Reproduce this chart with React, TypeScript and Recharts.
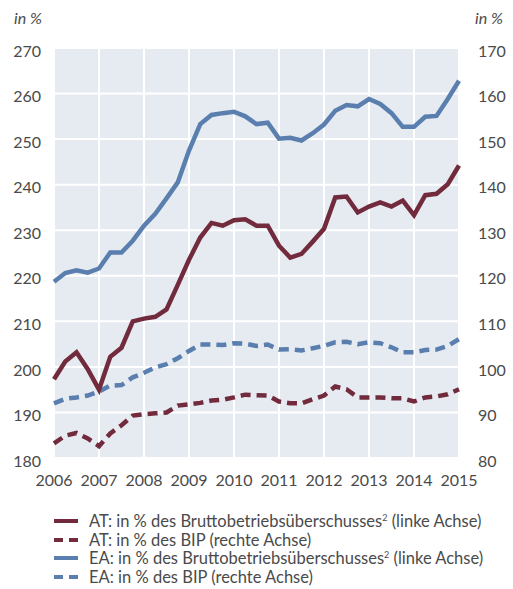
import React from "react";
import { CartesianGrid, Line, LineChart, XAxis, YAxis } from "recharts";

// quarters 2006 Q1 .. 2015 Q1
const quarters = [
  "2006-Q1", "2006-Q2", "2006-Q3", "2006-Q4",
  "2007-Q1", "2007-Q2", "2007-Q3", "2007-Q4",
  "2008-Q1", "2008-Q2", "2008-Q3", "2008-Q4",
  "2009-Q1", "2009-Q2", "2009-Q3", "2009-Q4",
  "2010-Q1", "2010-Q2", "2010-Q3", "2010-Q4",
  "2011-Q1", "2011-Q2", "2011-Q3", "2011-Q4",
  "2012-Q1", "2012-Q2", "2012-Q3", "2012-Q4",
  "2013-Q1", "2013-Q2", "2013-Q3", "2013-Q4",
  "2014-Q1", "2014-Q2", "2014-Q3", "2014-Q4",
  "2015-Q1",
];

// left axis: in % des Bruttobetriebsüberschusses
const atBue = [
  197.3, 201.2, 203.2, 199.5, 195, 202.2, 204.2, 210, 210.6, 211, 212.6, 218,
  223.5, 228.4, 231.6, 231, 232.2, 232.4, 231, 231, 226.6, 224, 224.8, 227.5,
  230.3, 237.2, 237.4, 233.9, 235.2, 236.1, 235.2, 236.5, 233.3, 237.7, 238,
  240.1, 244.2,
];
const eaBue = [
  218.7, 220.6, 221.2, 220.7, 221.6, 225.1, 225.1, 227.7, 231, 233.6, 237,
  240.5, 247.5, 253.3, 255.3, 255.7, 256, 255, 253.3, 253.6, 250.1, 250.3,
  249.7, 251.3, 253.2, 256.2, 257.5, 257.2, 258.8, 257.7, 255.7, 252.7, 252.7,
  254.9, 255.1, 258.8, 262.8,
];

// right axis: in % des BIP
const atBip = [
  83.2, 84.9, 85.5, 84.3, 82.6, 85.4, 87.2, 89.3, 89.6, 89.8, 90, 91.5, 91.8,
  92.1, 92.6, 92.8, 93.3, 93.9, 93.8, 93.7, 92.4, 92, 92, 92.9, 93.7, 95.7,
  95.1, 93.3, 93.3, 93.3, 93.1, 93.1, 92.4, 93.3, 93.5, 94, 95.1,
];
const eaBip = [
  92, 93, 93.3, 93.7, 94.6, 95.9, 96, 97.7, 98.7, 99.9, 100.6, 101.9, 103.5,
  104.9, 104.9, 104.8, 105.2, 105.1, 104.6, 104.9, 103.8, 103.9, 103.6, 104.1,
  104.6, 105.4, 105.5, 105, 105.4, 105.2, 104.3, 103.2, 103.2, 103.7, 103.8,
  104.6, 106.1,
];

const leftTicks = [180, 190, 200, 210, 220, 230, 240, 250, 260, 270];
const rightTicks = [80, 90, 100, 110, 120, 130, 140, 150, 160, 170];
const yearTicks = quarters.filter((q) => q.endsWith("Q1"));

const MAROON = "#722b3d";
const BLUE = "#5a7fae";
const TEXT = "#4a4a4a";
const FONT = "Lato, 'Open Sans', sans-serif";

const legendItems = [
  { label: "AT: in % des Bruttobetriebsüberschusses", sup: true, axis: "(linke Achse)", color: MAROON, dashed: false },
  { label: "AT: in % des BIP", sup: false, axis: "(rechte Achse)", color: MAROON, dashed: true },
  { label: "EA: in % des Bruttobetriebsüberschusses", sup: true, axis: "(linke Achse)", color: BLUE, dashed: false },
  { label: "EA: in % des BIP", sup: false, axis: "(rechte Achse)", color: BLUE, dashed: true },
];

const data = quarters.map((q, i) => ({
  q,
  atBue: atBue[i],
  eaBue: eaBue[i],
  atBip: atBip[i],
  eaBip: eaBip[i],
}));

const tickStyle = { fill: TEXT, fontSize: 16, fontFamily: FONT };

export default function App() {
  return (
    <div
      style={{
        position: "absolute",
        left: 0,
        top: 0,
        width: 513,
        height: 589,
        background: "#fff",
        fontFamily: FONT,
        color: TEXT,
      }}
    >
      <div style={{ position: "absolute", left: 14, top: 8, fontSize: 16, fontStyle: "italic" }}>
        in %
      </div>
      <div style={{ position: "absolute", left: 475, top: 8, fontSize: 16, fontStyle: "italic" }}>
        in %
      </div>
      <LineChart
        width={513}
        height={490}
        data={data}
        margin={{ top: 48, right: 0, bottom: 0, left: 0 }}
      >
        <CartesianGrid stroke="#ffffff" strokeWidth={2} fill="#e6ebf2" fillOpacity={1} />
        <XAxis
          dataKey="q"
          ticks={yearTicks}
          tickFormatter={(v: string) => v.slice(0, 4)}
          axisLine={false}
          tickLine={false}
          tickSize={0}
          tickMargin={17}
          height={32}
          tick={tickStyle}
          interval={0}
        />
        <YAxis
          domain={[180, 270]}
          ticks={leftTicks}
          axisLine={false}
          tickLine={false}
          tickSize={0}
          tickMargin={13}
          width={54}
          tick={{ ...tickStyle, dy: 3 }}
        />
        <YAxis
          yAxisId="r"
          orientation="right"
          domain={[80, 170]}
          ticks={rightTicks}
          axisLine={false}
          tickLine={false}
          tickSize={0}
          tickMargin={19}
          width={54}
          tick={{ ...tickStyle, dy: 3, textAnchor: "start" }}
        />
        <Line dataKey="atBip" yAxisId="r" stroke={MAROON} strokeWidth={4.5} strokeDasharray="10 6" dot={false} isAnimationActive={false} />
        <Line dataKey="eaBip" yAxisId="r" stroke={BLUE} strokeWidth={4.5} strokeDasharray="10 6" dot={false} isAnimationActive={false} />
        <Line dataKey="eaBue" stroke={BLUE} strokeWidth={4.5} dot={false} isAnimationActive={false} />
        <Line dataKey="atBue" stroke={MAROON} strokeWidth={4.5} dot={false} isAnimationActive={false} />
      </LineChart>
      <div style={{ position: "absolute", left: 54, top: 512, fontSize: 16.5 }}>
        {legendItems.map((it) => (
          <div key={it.label + it.axis} style={{ display: "flex", alignItems: "center", height: 18.6 }}>
            <svg width={24} height={6} style={{ marginRight: 11 }}>
              {it.dashed ? (
                <>
                  <rect x={0} y={1} width={9} height={4} fill={it.color} />
                  <rect x={15} y={1} width={9} height={4} fill={it.color} />
                </>
              ) : (
                <rect x={0} y={1} width={24} height={4} fill={it.color} />
              )}
            </svg>
            <span style={{ whiteSpace: "nowrap" }}>
              {it.label}
              {it.sup ? <sup style={{ fontSize: 9 }}>2</sup> : null} {it.axis}
            </span>
          </div>
        ))}
      </div>
    </div>
  );
}
